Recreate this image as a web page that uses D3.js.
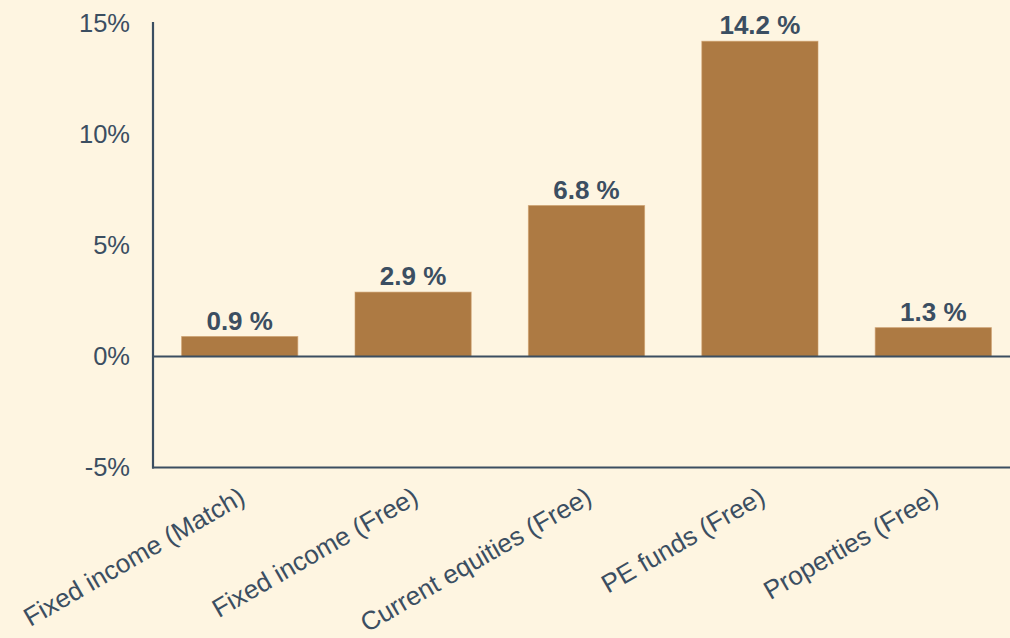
<!DOCTYPE html>
<html>
<head>
<meta charset="utf-8">
<script src="https://cdn.jsdelivr.net/npm/d3@7"></script>
<style>
  html, body { margin: 0; padding: 0; background: #FEF5E1; }
  svg { display: block; }
  text { font-family: "Liberation Sans", Arial, sans-serif; }
</style>
</head>
<body>
<svg id="chart" width="1010" height="638"></svg>
<script>
// Return by asset class, in percent
const categories = [
  "Fixed income (Match)",
  "Fixed income (Free)",
  "Current equities (Free)",
  "PE funds (Free)",
  "Properties (Free)"
];
const values = [0.9, 2.9, 6.8, 14.2, 1.3];
const yTicks = [-5, 0, 5, 10, 15];

const W = 1010, H = 638;
const ink = "#3B4E61";
const barFill = "#AD7A43";

const svg = d3.select("#chart");
svg.append("rect").attr("width", W).attr("height", H).attr("fill", "#FEF5E1");

const x = d3.scaleBand()
  .domain(categories)
  .range([153, 1020])
  .paddingInner(0.33)
  .paddingOuter(0.165);

const y = d3.scaleLinear()
  .domain([-5, 15])
  .range([467.5, 23.5]);

// Y tick labels (no tick marks)
svg.append("g")
  .selectAll("text")
  .data(yTicks)
  .join("text")
  .attr("x", 130)
  .attr("y", d => y(d))
  .attr("dy", "0.35em")
  .attr("text-anchor", "end")
  .attr("font-size", 25.5)
  .attr("fill", ink)
  .text(d => d + "%");

// Bars
svg.append("g")
  .selectAll("rect")
  .data(values)
  .join("rect")
  .attr("x", (d, i) => x(categories[i]))
  .attr("width", x.bandwidth())
  .attr("y", d => y(Math.max(0, d)))
  .attr("height", d => Math.abs(y(d) - y(0)))
  .attr("fill", barFill)
  .attr("stroke", "#C99A66")
  .attr("stroke-width", 1)
  .attr("stroke-opacity", 0.6);

// Value labels
svg.append("g")
  .selectAll("text")
  .data(values)
  .join("text")
  .attr("x", (d, i) => x(categories[i]) + x.bandwidth() / 2)
  .attr("y", d => y(d) - 7)
  .attr("text-anchor", "middle")
  .attr("font-size", 26)
  .attr("font-weight", "bold")
  .attr("fill", ink)
  .text(d => d.toFixed(1) + " %");

// Axis lines: vertical, zero line and bottom line
const axes = svg.append("g").attr("stroke", ink).attr("stroke-width", 2.2);
axes.append("line")
  .attr("x1", 153).attr("x2", 153)
  .attr("y1", 22).attr("y2", y(-5) + 1);
axes.append("line")
  .attr("x1", 152).attr("x2", W)
  .attr("y1", y(0)).attr("y2", y(0));
axes.append("line")
  .attr("x1", 152).attr("x2", W)
  .attr("y1", y(-5)).attr("y2", y(-5));

// Rotated category labels
svg.append("g")
  .selectAll("text")
  .data(categories)
  .join("text")
  .attr("transform", d => `translate(${x(d) + x.bandwidth() / 2 + 7},${502}) rotate(-30)`)
  .attr("text-anchor", "end")
  .attr("font-size", 26)
  .attr("fill", ink)
  .text(d => d);
</script>
</body>
</html>
